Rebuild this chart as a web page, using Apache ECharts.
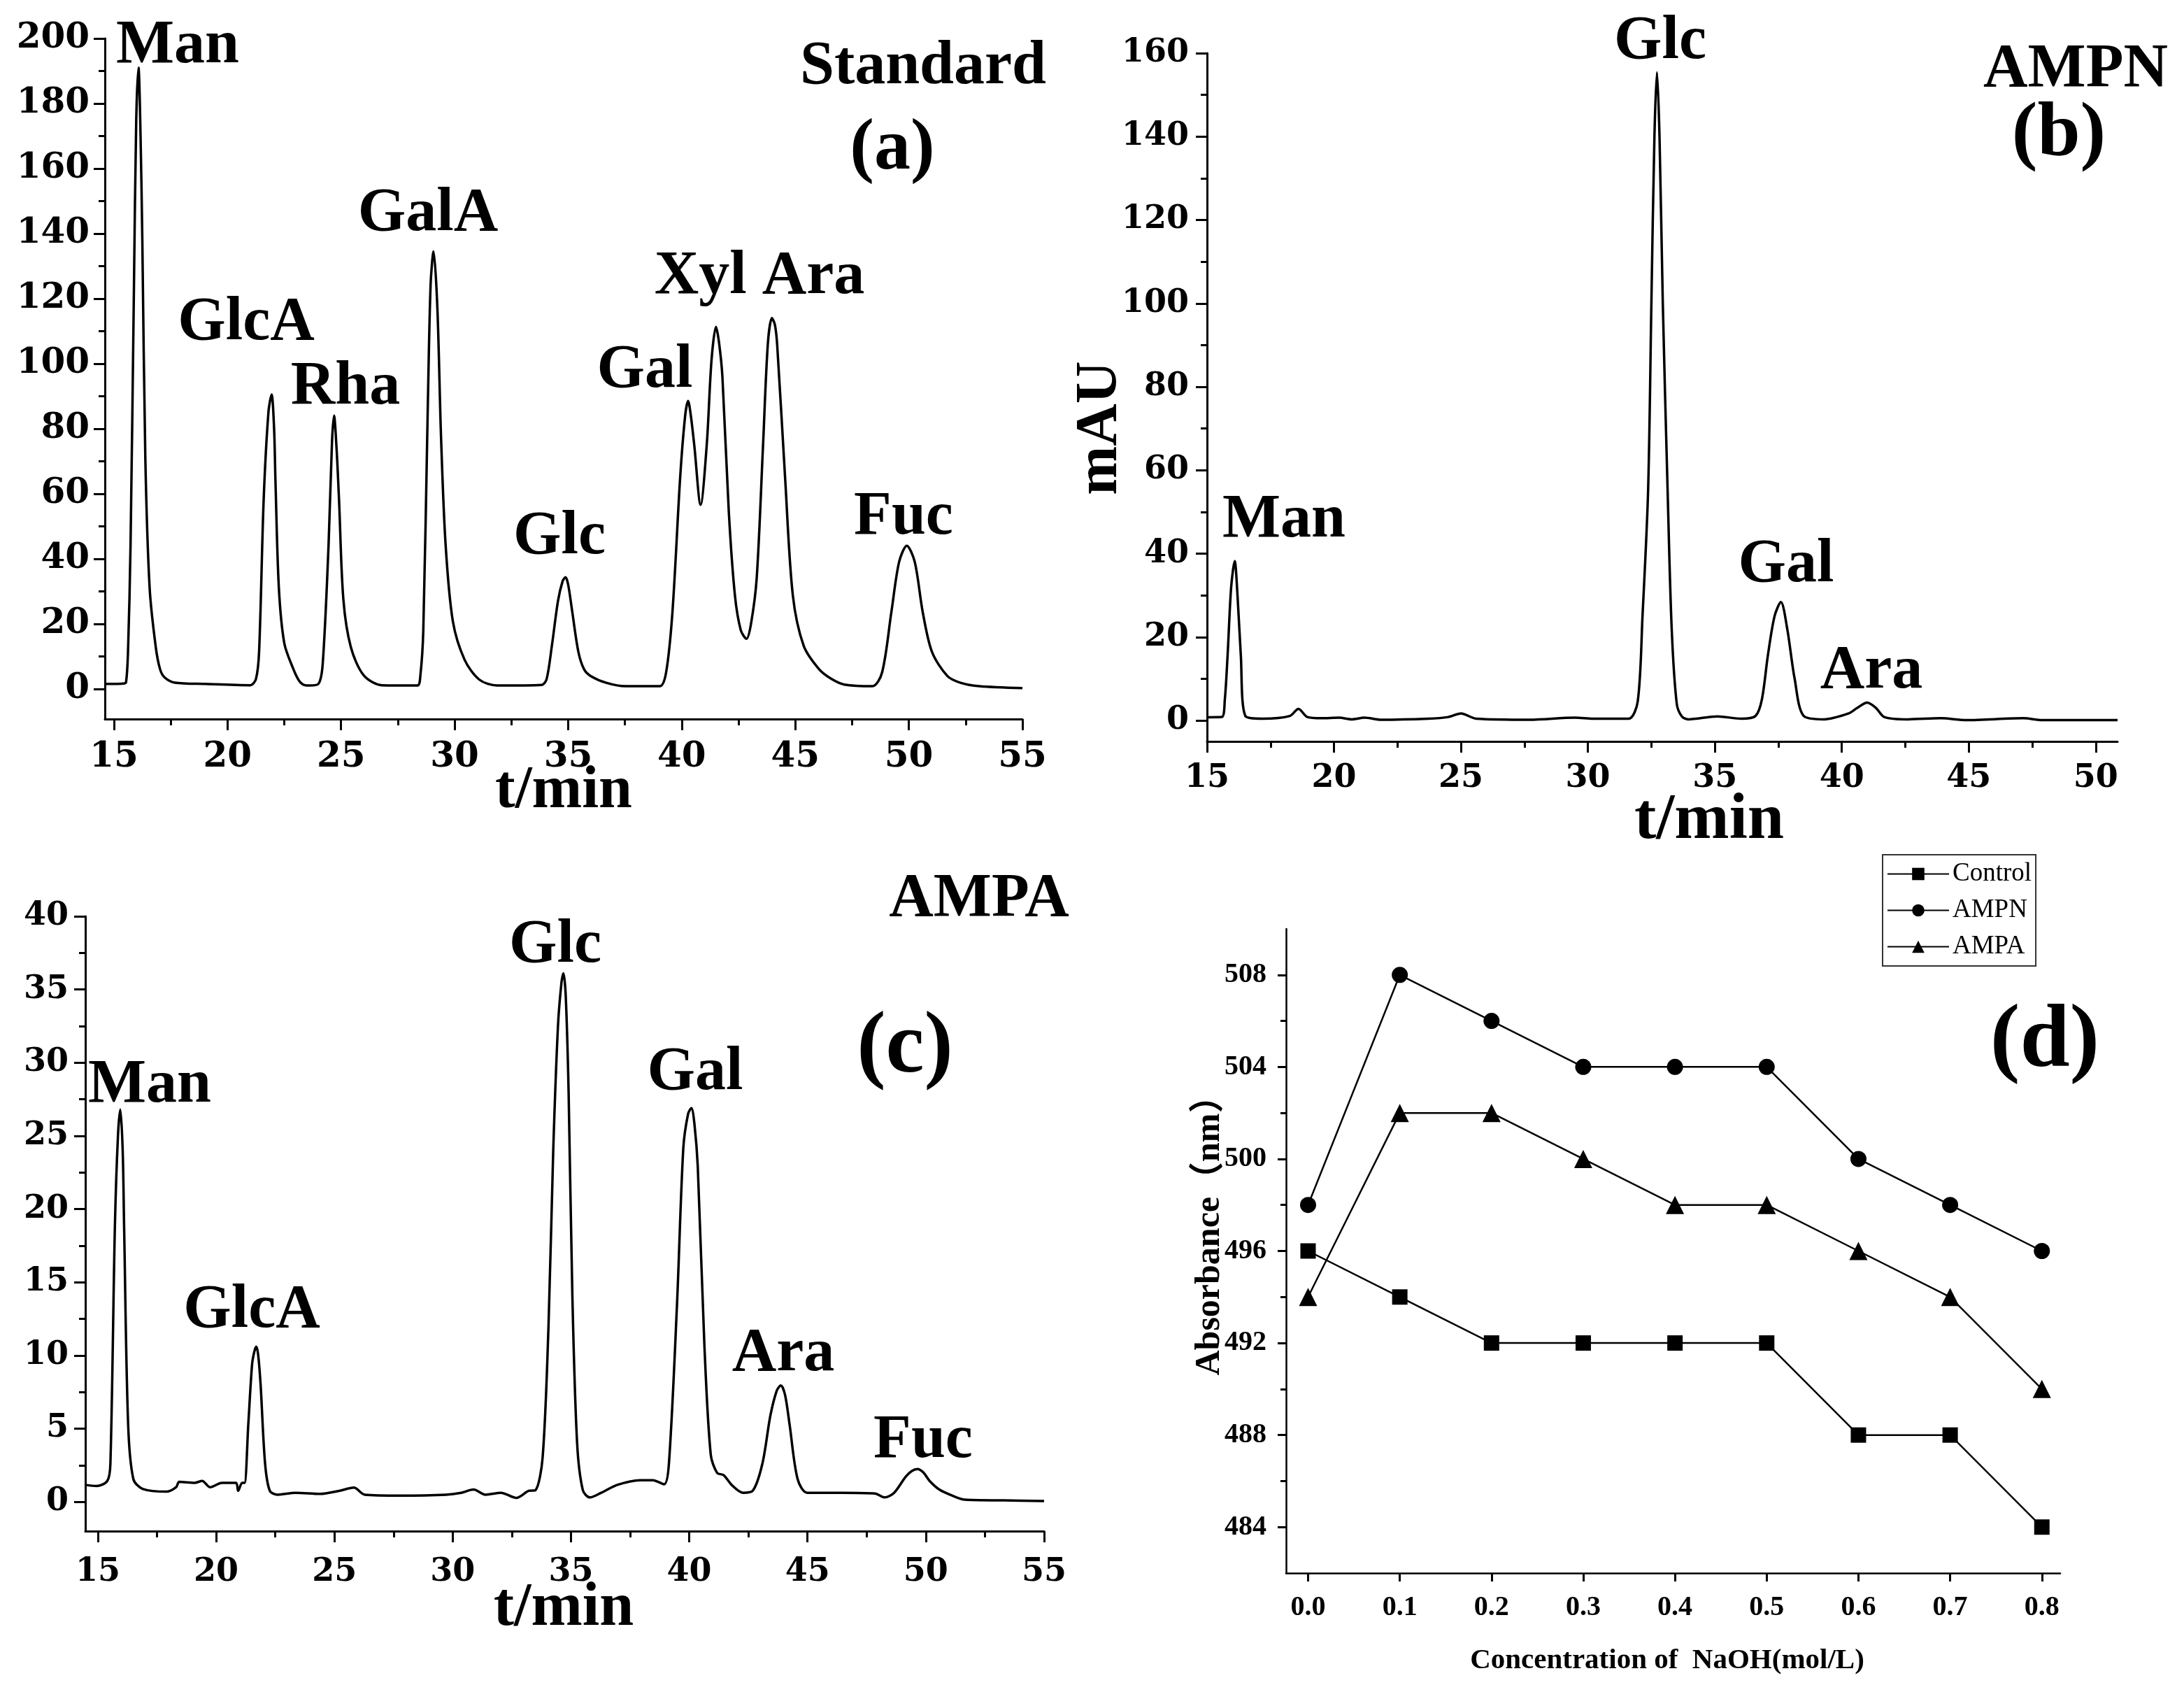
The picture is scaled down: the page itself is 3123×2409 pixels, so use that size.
<!DOCTYPE html>
<html><head><meta charset="utf-8">
<script src="https://cdn.jsdelivr.net/npm/echarts@6/dist/echarts.min.js"></script>
<style>html,body{margin:0;padding:0;background:#fff}#c{width:3123px;height:2409px}</style>
</head><body><div id="c"></div>
<script>
// ---------- Panel (a): Standard ----------
const aTime = [14.6,15.0,15.4,15.53,15.62,15.73,15.88,15.98,16.08,16.17,16.25,16.38,16.57,16.84,17.03,17.23,17.68,19.0,21.0,
  21.25,21.39,21.59,21.8,21.94,22.05,22.11,22.26,22.5,22.89,23.15,23.41,23.6,24.0,24.19,24.45,24.6,24.69,24.8,24.91,25.1,25.43,26.0,26.8,
  28.36,28.49,28.62,28.81,28.94,29.07,29.24,29.4,29.6,29.92,30.44,31.09,31.87,33.83,
  34.05,34.28,34.55,34.75,34.88,35.0,35.18,35.45,35.7,36.0,36.7,37.52,39.03,
  39.31,39.59,39.93,40.15,40.28,40.4,40.55,40.83,41.1,41.31,41.51,41.65,41.79,42.07,42.34,42.6,42.85,43.05,43.3,43.58,43.79,43.97,44.1,44.2,44.55,44.89,45.37,46.05,46.6,47.16,48.39,
  48.82,49.23,49.57,49.91,50.26,50.61,51.02,51.7,52.3,53.1,55.0];
const aSignal = [1.5,1.5,1.6,2.0,12,44.5,124,175,191,170,137,71,31,12.8,6,3.5,1.9,1.5,1.1,
  3,11.5,58,85,90.5,80,64,31,14,6.2,2.5,1.1,1.0,1.5,7.6,44.5,76,84,74,58,27.5,12.8,4.1,1.1,
  1.0,4,18,84,124,134.5,117,77.6,44.5,20.8,8.9,2.8,1.0,1.2,
  3,13.2,27,33,34.3,32,23.6,11.3,6,3.9,1.8,0.8,0.8,
  5,23.6,65,84,88.5,84,75,56.6,75,101,111.3,106,96,54.6,28.8,18,15.4,20,34,75,106,114,112,106,65,28.8,13.2,6,3,1.3,0.8,
  5,23.6,39,44,39,23.6,11.3,3.9,1.8,0.8,0.2];
const aXTicks = [15,20,25,30,35,40,45,50,55];
const aXMinor = [17.5,22.5,27.5,32.5,37.5,42.5,47.5,52.5];
const aYTicks = [0,20,40,60,80,100,120,140,160,180,200];
const aYMinor = [10,30,50,70,90,110,130,150,170,190];

// ---------- Panel (b): AMPN ----------
const bTime = [15.0,15.58,15.7,15.81,15.95,16.09,16.2,16.33,16.51,17.2,18.26,18.6,18.95,19.5,20.2,20.7,21.2,21.86,23.7,24.5,25.0,25.6,27.7,29.5,30.2,31.6,
  31.96,32.15,32.37,32.5,32.62,32.72,32.82,32.95,33.14,33.3,33.5,33.7,33.95,35.1,36.05,36.6,
  36.85,37.09,37.35,37.6,37.85,38.14,38.5,39.3,40.26,40.6,41.0,41.35,41.67,42.6,43.9,44.9,47.15,47.9,50.86];
const bSignal = [0.8,0.85,5,15.7,32,38.2,30,15.7,1.1,0.45,1.1,2.8,0.85,0.56,0.7,0.3,0.7,0.2,0.45,0.85,1.7,0.45,0.2,0.7,0.45,0.45,
  4.5,25,55,100,140,155.4,140,100,55,22,4,1.0,0.3,1.0,0.45,1.1,
  5,15.7,25,28.4,22,10.1,1.1,0.3,1.7,3,4.3,3,0.85,0.3,0.56,0.1,0.56,0.1,0.1];
const bXTicks = [15,20,25,30,35,40,45,50];
const bXMinor = [17.5,22.5,27.5,32.5,37.5,42.5,47.5];
const bYTicks = [0,20,40,60,80,100,120,140,160];
const bYMinor = [10,30,50,70,90,110,130,150];

// ---------- Panel (c): AMPA ----------
const cTime = [14.47,14.94,15.4,15.53,15.72,15.85,15.95,16.05,16.11,16.28,16.5,16.89,17.92,18.31,18.44,19.09,19.41,19.74,20.25,20.84,20.93,21.1,
  21.2,21.36,21.52,21.62,21.7,21.78,21.88,22.07,22.27,22.6,23.36,24.4,25.2,25.82,26.28,27.77,29.71,30.36,30.88,31.39,32.04,32.69,33.21,
  33.5,33.8,34.05,34.25,34.45,34.6,34.68,34.78,34.9,35.06,35.26,35.5,35.8,36.28,36.96,37.92,38.46,38.94,
  39.14,39.48,39.75,39.95,40.09,40.22,40.36,40.64,40.91,41.18,41.45,41.79,42.27,42.68,
  43.09,43.43,43.7,43.87,44.05,44.24,44.58,44.99,46.49,47.85,48.25,48.66,49.14,49.4,49.65,49.9,50.16,50.57,51.11,51.65,53.29,55.0];
const cSignal = [1.16,1.08,1.43,2.6,18.8,25,26.8,24,18.8,5.3,1.56,0.89,0.7,1.0,1.37,1.3,1.43,1.0,1.3,1.3,0.75,1.3,
  1.3,5.3,9.4,10.3,10.6,10.0,8.0,2.6,0.75,0.49,0.62,0.54,0.75,0.97,0.49,0.43,0.49,0.62,0.84,0.49,0.62,0.27,0.75,
  0.8,3,12,24,32.5,35.5,36.1,34.5,28,14,4,0.8,0.3,0.62,1.16,1.48,1.48,1.2,
  2.6,13.4,24.2,26.5,26.9,25.8,22.9,10.7,3.2,1.97,1.83,1.16,0.62,0.75,
  2.6,5.9,7.6,7.95,7.3,5.3,1.56,0.62,0.62,0.57,0.3,0.62,1.7,2.1,2.24,2.0,1.43,0.84,0.43,0.15,0.1,0.05];
const cXTicks = [15,20,25,30,35,40,45,50,55];
const cXMinor = [17.5,22.5,27.5,32.5,37.5,42.5,47.5,52.5];
const cYTicks = [0,5,10,15,20,25,30,35,40];
const cYMinor = [2.5,7.5,12.5,17.5,22.5,27.5,32.5,37.5];

// ---------- Panel (d): absorbance vs NaOH ----------
const dConc = [0.0,0.1,0.2,0.3,0.4,0.5,0.6,0.7,0.8];
const dControl = [496,494,492,492,492,492,488,488,484];
const dAMPN = [498,508,506,504,504,504,500,498,496];
const dAMPA = [494,502,502,500,498,498,496,494,490];
const dXTicks = [0.0,0.1,0.2,0.3,0.4,0.5,0.6,0.7,0.8];
const dYTicks = [484,488,492,496,500,504,508];
const dYMinor = [486,490,494,498,502,506];

// ---------- helpers ----------
const zip = (xs, ys) => xs.map((x, i) => [x, ys[i]]);
const BLACK = '#000';
function mainAxis(gi, min, max, ticks, pos, font, margin, fmt) {
  return {
    type: 'value', gridIndex: gi, min: min, max: max, position: pos,
    axisLine: { show: true, onZero: false, lineStyle: { color: BLACK, width: 3 } },
    axisTick: { show: true, inside: false, length: 16, customValues: ticks, lineStyle: { color: BLACK, width: 3 } },
    axisLabel: { show: true, customValues: ticks, margin: margin, color: BLACK,
      fontFamily: font.family, fontWeight: 'bold', fontSize: font.size,
      formatter: fmt || (v => String(Math.round(v))) },
    splitLine: { show: false }, minorTick: { show: false }
  };
}
function minorAxis(gi, min, max, ticks, pos, len) {
  return {
    type: 'value', gridIndex: gi, min: min, max: max, position: pos,
    axisLine: { show: false, onZero: false },
    axisTick: { show: true, inside: false, length: len || 9, customValues: ticks, lineStyle: { color: BLACK, width: 3 } },
    axisLabel: { show: false }, splitLine: { show: false }
  };
}
const dv = { family: 'DejaVu Serif', size: 46 };
const dvA = { family: 'DejaVu Serif', size: 50 };
const tnr = { family: 'Liberation Serif', size: 40 };

const xAxes = [
  mainAxis(0, 14.6, 55, aXTicks, 'bottom', dvA, 30), minorAxis(0, 14.6, 55, aXMinor, 'bottom'),
  mainAxis(1, 15, 50.86, bXTicks, 'bottom', dv, 30), minorAxis(1, 15, 50.86, bXMinor, 'bottom'),
  mainAxis(2, 14.47, 55, cXTicks, 'bottom', dv, 36), minorAxis(2, 14.47, 55, cXMinor, 'bottom'),
  mainAxis(3, -0.024, 0.82, dXTicks, 'bottom', tnr, 30, v => v.toFixed(1))
];
const yAxes = [
  mainAxis(0, -9.3, 200, aYTicks, 'left', dvA, 22), minorAxis(0, -9.3, 200, aYMinor, 'left'),
  mainAxis(1, -5, 160, bYTicks, 'left', dv, 26), minorAxis(1, -5, 160, bYMinor, 'left'),
  mainAxis(2, -2, 40, cYTicks, 'left', dv, 24), minorAxis(2, -2, 40, cYMinor, 'left'),
  mainAxis(3, 482, 510, dYTicks, 'left', tnr, 28), minorAxis(3, 482, 510, dYMinor, 'left', 8)
];
yAxes[6].axisTick.length = 12; xAxes[6].axisTick.length = 12;
yAxes[6].axisLine.lineStyle.width = 2.5; xAxes[6].axisLine.lineStyle.width = 2.5;

function chrom(name, xi, yi, t, s) {
  return { name: name, type: 'line', xAxisIndex: xi, yAxisIndex: yi, data: zip(t, s),
    showSymbol: false, symbol: 'none', smooth: 0.3, lineStyle: { color: BLACK, width: 3.5 }, silent: true };
}
function dLine(name, data, sym, size) {
  return { name: name, type: 'line', xAxisIndex: 6, yAxisIndex: 6, data: zip(dConc, data),
    symbol: sym, symbolSize: size, showSymbol: true, itemStyle: { color: BLACK },
    lineStyle: { color: BLACK, width: 2.5 }, silent: true };
}

const LBL = 'bold 88px "Liberation Serif"';
function txt(text, x, y, font, rot) {
  return { type: 'text', x: x, y: y, rotation: rot || 0, silent: true,
    style: { text: text, font: font || LBL, fill: BLACK, align: 'center', verticalAlign: 'middle' } };
}
const labels = [
  // (a)
  txt('Man', 254, 66), txt('Standard', 1320, 96), txt('(a)', 1276, 214, 'bold 104px "Liberation Serif"'),
  txt('GlcA', 352, 462), txt('Rha', 494, 554), txt('GalA', 612, 306), txt('Glc', 800, 768),
  txt('Gal', 922, 530), txt('Xyl Ara', 1086, 396), txt('Fuc', 1292, 740),
  txt('t/min', 806, 1132, 'bold 86px "Liberation Serif"'),
  // (b)
  txt('Glc', 2374, 60), txt('AMPN', 2968, 100), txt('(b)', 2944, 194, 'bold 110px "Liberation Serif"'),
  txt('Man', 1836, 744), txt('Gal', 2554, 808), txt('Ara', 2676, 960),
  txt('t/min', 2444, 1174, 'bold 94px "Liberation Serif"'),
  txt('mAU', 1574, 612, 'bold 84px "Liberation Serif"', Math.PI / 2),
  // (c)
  txt('AMPA', 1400, 1286), txt('Glc', 794, 1352), txt('(c)', 1294, 1500, 'bold 124px "Liberation Serif"'),
  txt('Man', 214, 1552), txt('Gal', 994, 1534), txt('GlcA', 360, 1874), txt('Ara', 1120, 1936), txt('Fuc', 1320, 2060),
  txt('t/min', 806, 2300, 'bold 88px "Liberation Serif"'),
  // (d)
  txt('(d)', 2924, 1490, 'bold 128px "Liberation Serif"'),
  txt('Absorbance（nm）', 1730, 1754, 'bold 50px "Liberation Serif", "Noto Sans CJK SC"', Math.PI / 2),
  txt('Concentration of  NaOH(mol/L)', 2384, 2374, 'bold 41px "Liberation Serif"')
];

const chart = echarts.init(document.getElementById('c'), null, { renderer: 'canvas' });
chart.setOption({
  backgroundColor: '#fff',
  animation: false,
  grid: [
    { left: 150, top: 55, width: 1312, height: 973, outerBoundsMode: 'none', containLabel: false },
    { left: 1726, top: 76, width: 1302, height: 984, outerBoundsMode: 'none', containLabel: false },
    { left: 122, top: 1310, width: 1371, height: 879, outerBoundsMode: 'none', containLabel: false },
    { left: 1839, top: 1328, width: 1107, height: 921, outerBoundsMode: 'none', containLabel: false }
  ],
  xAxis: xAxes,
  yAxis: yAxes,
  legend: {
    data: ['Control', 'AMPN', 'AMPA'], orient: 'vertical', left: 2692, top: 1222,
    padding: [9, 6, 9, 6], itemGap: 15, itemWidth: 88, itemHeight: 22,
    borderColor: '#333', borderWidth: 2, backgroundColor: '#fff',
    textStyle: { fontFamily: 'Liberation Serif', fontSize: 37, color: BLACK }
  },
  series: [
    chrom('a', 0, 0, aTime, aSignal),
    chrom('b', 2, 2, bTime, bSignal),
    chrom('c', 4, 4, cTime, cSignal),
    dLine('Control', dControl, 'rect', 22),
    dLine('AMPN', dAMPN, 'circle', 23),
    dLine('AMPA', dAMPA, 'triangle', 26)
  ],
  graphic: labels
});
</script></body></html>
